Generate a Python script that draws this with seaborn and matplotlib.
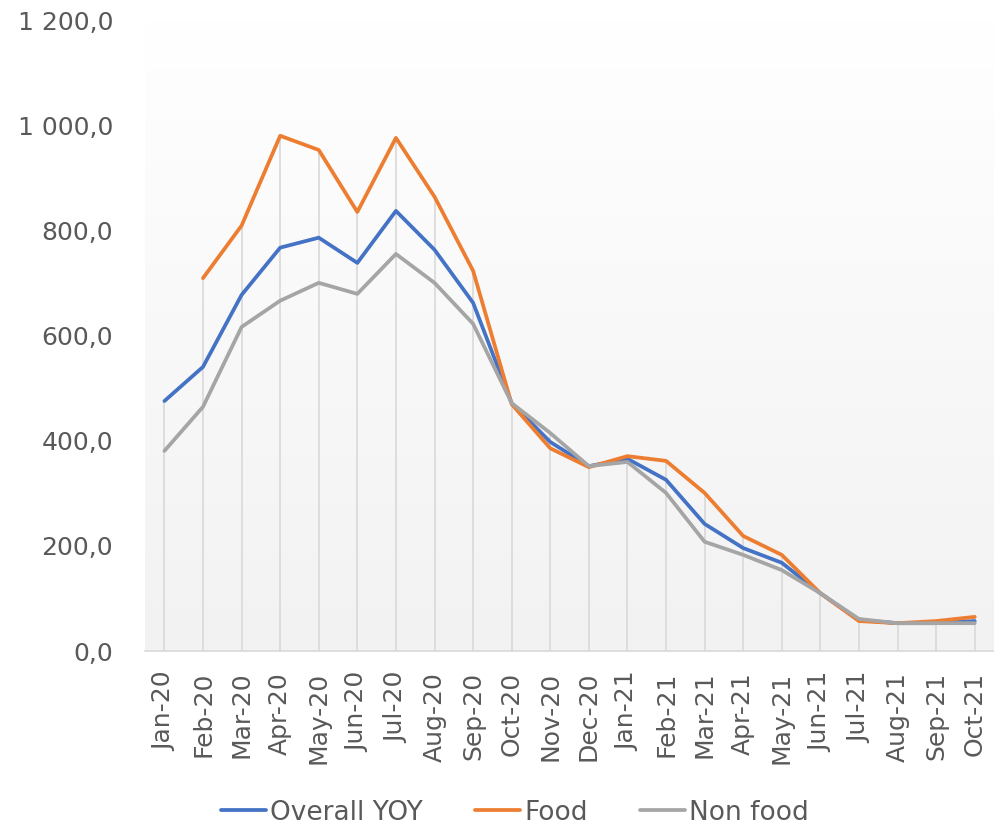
import numpy as np
import pandas as pd
import matplotlib
matplotlib.use('Agg')
import matplotlib.pyplot as plt
import seaborn as sns
from matplotlib.ticker import FuncFormatter, FixedLocator

months = ['Jan-20', 'Feb-20', 'Mar-20', 'Apr-20', 'May-20', 'Jun-20', 'Jul-20',
          'Aug-20', 'Sep-20', 'Oct-20', 'Nov-20', 'Dec-20', 'Jan-21', 'Feb-21',
          'Mar-21', 'Apr-21', 'May-21', 'Jun-21', 'Jul-21', 'Aug-21', 'Sep-21', 'Oct-21']
overall = [476, 541, 678, 768, 787, 739, 838, 764, 663, 472, 398, 352,
           366, 326, 242, 196, 168, 110, 59, 53, 53, 57]
food = [np.nan, 710, 810, 981, 954, 836, 977, 865, 724, 470, 386, 350,
        371, 362, 301, 219, 183, 110, 57, 53, 57, 65]
non_food = [381, 465, 617, 667, 701, 680, 756, 701, 623, 472, 415, 352,
            360, 301, 208, 183, 154, 110, 61, 53, 53, 53]

series_names = ['Overall YOY', 'Food', 'Non food']
colors = ['#4472C4', '#ED7D31', '#A5A5A5']

x = np.arange(len(months))
df = pd.DataFrame({
    'x': np.tile(x, 3),
    'value': overall + food + non_food,
    'series': np.repeat(series_names, len(months)),
})

sns.set_style('white')
plt.rcParams['font.family'] = ['DejaVu Sans']
text_color = '#595959'

fig = plt.figure(figsize=(9.94, 8.31), dpi=100)
ax = fig.add_axes([0.146, 0.2166, 0.854, 0.7584])

# gradient plot area background
grad = np.linspace(1.0, 0.0, 256).reshape(-1, 1)
ax.imshow(grad, cmap=matplotlib.colors.LinearSegmentedColormap.from_list(
    'bg', ['#f2f2f2', '#ffffff']), aspect='auto',
    extent=(-0.5, len(months) - 0.5, 0, 1200), zorder=0, origin='upper')

# drop lines up to the highest value
tops = np.nanmax(np.array([overall, food, non_food], dtype=float), axis=0)
ax.vlines(x, 0, tops, color='#d9d9d9', lw=1.2, zorder=1)

sns.lineplot(data=df, x='x', y='value', hue='series', hue_order=series_names,
             palette=colors, linewidth=2.7, sort=False, ax=ax, legend=False, zorder=3)

ax.set_xlim(-0.5, len(months) - 0.5)
ax.set_ylim(0, 1200)
ax.set_yticks(np.arange(0, 1201, 200))
ax.yaxis.set_major_formatter(FuncFormatter(
    lambda v, p: f'{v:,.1f}'.replace(',', ' ').replace('.', ',')))
ax.set_xticks(x)
ax.set_xticklabels(months, rotation=90)
ax.xaxis.set_minor_locator(FixedLocator(np.arange(-0.5, len(months), 1.0)))
ax.tick_params(axis='x', which='major', length=0, pad=15, labelsize=18, colors=text_color)
ax.tick_params(axis='x', which='minor', length=9, width=1.2, color='#d9d9d9', direction='out')
ax.tick_params(axis='y', length=0, pad=23, labelsize=18, colors=text_color)
ax.set_xlabel('')
ax.set_ylabel('')
for s in ['top', 'right', 'left']:
    ax.spines[s].set_visible(False)
ax.spines['bottom'].set_color('#d9d9d9')
ax.spines['bottom'].set_linewidth(1.2)
ax.grid(False)

handles = [plt.Line2D([0], [0], color=c, lw=2.7) for c in colors]
fig.legend(handles, series_names, loc='lower center', bbox_to_anchor=(0.518, -0.022),
           ncol=3, frameon=False, fontsize=19, handlelength=1.7, handletextpad=0.15,
           columnspacing=2.0, labelcolor=text_color)

fig.savefig('out.png', dpi=100)
